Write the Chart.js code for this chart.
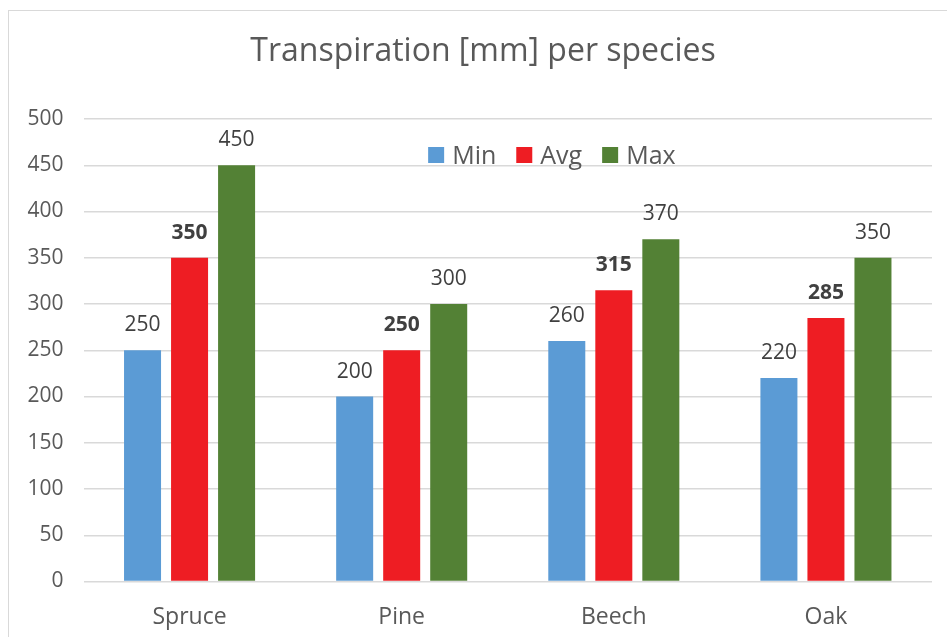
<!DOCTYPE html>
<html>
<head>
<meta charset="utf-8">
<title>Transpiration per species</title>
<script src="https://cdn.jsdelivr.net/npm/chart.js@4.4.0/dist/chart.umd.min.js"></script>
<style>
  html, body { margin: 0; padding: 0; background: #ffffff; overflow: hidden; }
  #frame {
    position: absolute; left: 8px; top: 10px; width: 1000px; height: 700px;
    border: 1.5px solid #d9d9d9; box-sizing: border-box;
  }
  #wrap { position: absolute; left: 0; top: 0; width: 947px; height: 637px; }
</style>
</head>
<body>
<div id="frame"></div>
<div id="wrap"><canvas id="chart" width="947" height="637"></canvas></div>
<script>
// Species on the x axis
const categories = ['Spruce', 'Pine', 'Beech', 'Oak'];
// Transpiration in mm per species
const minValues = [250, 200, 260, 220];
const avgValues = [350, 250, 315, 285];
const maxValues = [450, 300, 370, 350];
const seriesNames = ['Min', 'Avg', 'Max'];
// Value axis range
const yMin = 0;
const yMax = 500;
const yStep = 50;

const FONT = "'Open Sans', 'Noto Sans', sans-serif";
const colors = ['#5B9BD5', '#EE1D23', '#538135'];

// Value labels above each bar (Avg series in bold)
const valueLabels = {
  id: 'valueLabels',
  afterDatasetsDraw(chart) {
    const ctx = chart.ctx;
    ctx.save();
    ctx.textAlign = 'center';
    ctx.textBaseline = 'alphabetic';
    ctx.fillStyle = '#404040';
    chart.data.datasets.forEach((ds, i) => {
      const meta = chart.getDatasetMeta(i);
      ctx.font = (i === 1 ? 'bold ' : '') + '21px ' + FONT;
      meta.data.forEach((bar, j) => {
        ctx.fillText(String(ds.data[j]), bar.x, bar.y - 19);
      });
    });
    ctx.restore();
  }
};

// Legend drawn inside the plot area, near the top
const insideLegend = {
  id: 'insideLegend',
  afterDraw(chart) {
    const ctx = chart.ctx;
    const area = chart.chartArea;
    ctx.save();
    ctx.font = '25px ' + FONT;
    ctx.textBaseline = 'alphabetic';
    const box = 16, gapBoxText = 8, gapItems = 20;
    const items = chart.data.datasets.map(ds => ({
      label: ds.label, color: ds.backgroundColor, w: ctx.measureText(ds.label).width
    }));
    const total = items.reduce((s, it) => s + box + gapBoxText + it.w, 0) + gapItems * (items.length - 1);
    const cx = area.left + area.width * 0.552;
    const cy = area.top + 36;
    let x = cx - total / 2;
    items.forEach(it => {
      ctx.fillStyle = it.color;
      ctx.fillRect(x, cy - box / 2, box, box);
      x += box + gapBoxText;
      ctx.fillStyle = '#595959';
      ctx.fillText(it.label, x, cy + 9);
      x += it.w + gapItems;
    });
    ctx.restore();
  }
};

// Centre the title over the framed chart box rather than the canvas
const titleCentre = {
  id: 'titleCentre',
  afterLayout(chart) {
    const t = chart.titleBlock;
    if (t) { t.left = 34; t.right = 932; }
  }
};

const seriesData = [minValues, avgValues, maxValues];

new Chart(document.getElementById('chart'), {
  type: 'bar',
  data: {
    labels: categories,
    datasets: seriesNames.map((name, i) => ({
      label: name,
      data: seriesData[i],
      backgroundColor: colors[i],
      borderWidth: 0,
      categoryPercentage: 0.665,
      barPercentage: 0.787
    }))
  },
  options: {
    responsive: false,
    animation: false,
    devicePixelRatio: 1,
    layout: { padding: { left: 0, right: 15, top: 0, bottom: 0 } },
    plugins: {
      legend: { display: false },
      tooltip: { enabled: false },
      title: {
        display: true,
        text: 'Transpiration [mm] per species',
        color: '#595959',
        font: { family: FONT, size: 32, weight: 'normal', lineHeight: 1.2 },
        padding: { top: 33, bottom: 47.6 }
      }
    },
    scales: {
      x: {
        grid: { display: false, drawTicks: false },
        border: { display: false },
        ticks: { color: '#595959', font: { family: FONT, size: 23 }, padding: 22 },
        afterFit(scale) { scale.height = 55.5; }
      },
      y: {
        min: yMin,
        max: yMax,
        grid: { color: '#d9d9d9', lineWidth: 1.5, drawTicks: false },
        border: { display: false },
        ticks: { stepSize: yStep, color: '#595959', font: { family: FONT, size: 21 }, padding: 20 },
        afterFit(scale) { scale.width = 83.5; }
      }
    }
  },
  plugins: [valueLabels, insideLegend, titleCentre]
});
</script>
</body>
</html>
